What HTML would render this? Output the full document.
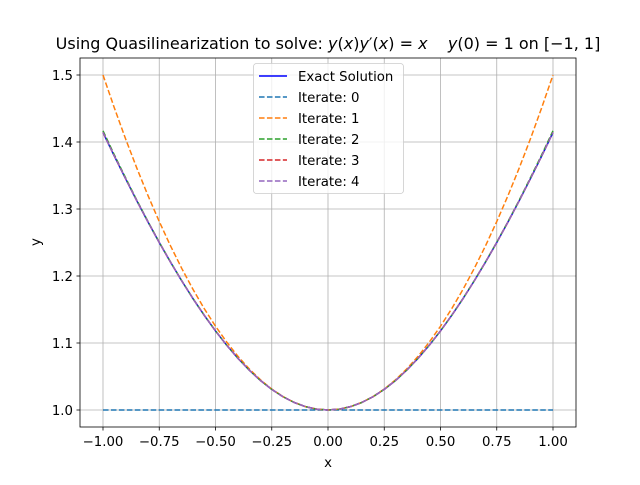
<!DOCTYPE html>
<html><head><meta charset="utf-8"><style>
body{margin:0;background:#fff}
svg text{font-family:"DejaVu Sans","Liberation Sans",sans-serif;white-space:pre}
</style></head><body>
<svg id="chart" width="640" height="480" xmlns="http://www.w3.org/2000/svg">
<rect width="640" height="480" fill="#fff"/>
<g id="grid"></g>
<g id="series"></g>
<rect x="80" y="58" width="496" height="369" fill="none" stroke="#000" stroke-width="0.8"/>
<g id="ticks"></g>
<text x="328" y="49" font-size="16" text-anchor="middle" xml:space="preserve">Using Quasilinearization to solve: <tspan font-style="italic">y</tspan>(<tspan font-style="italic">x</tspan>)<tspan font-style="italic">y</tspan>′(<tspan font-style="italic">x</tspan>) = <tspan font-style="italic">x</tspan>&#160;&#160;&#160;&#160;<tspan font-style="italic">y</tspan>(0) = 1 on [−1, 1]</text>
<text x="328" y="467" font-size="13.3" text-anchor="middle">x</text>
<text transform="translate(40,242) rotate(-90)" font-size="13.3" text-anchor="middle">y</text>
<g id="legend"></g>
</svg>
<script>
const xs=[-1,-0.95,-0.9,-0.85,-0.8,-0.75,-0.7,-0.65,-0.6,-0.55,-0.5,-0.45,-0.4,-0.35,-0.3,-0.25,-0.2,-0.15,-0.1,-0.05,0,0.05,0.1,0.15,0.2,0.25,0.3,0.35,0.4,0.45,0.5,0.55,0.6,0.65,0.7,0.75,0.8,0.85,0.9,0.95,1];
const exact=[1.4142,1.3793,1.3454,1.3124,1.2806,1.25,1.2207,1.1927,1.1662,1.1413,1.1180,1.0966,1.0770,1.0595,1.0440,1.0308,1.0198,1.0112,1.0050,1.0012,1,1.0012,1.0050,1.0112,1.0198,1.0308,1.0440,1.0595,1.0770,1.0966,1.1180,1.1413,1.1662,1.1927,1.2207,1.25,1.2806,1.3124,1.3454,1.3793,1.4142];
const iter0=[1,1,1,1,1,1,1,1,1,1,1,1,1,1,1,1,1,1,1,1,1,1,1,1,1,1,1,1,1,1,1,1,1,1,1,1,1,1,1,1,1];
const iter1=[1.5,1.4513,1.405,1.3613,1.32,1.2813,1.245,1.2113,1.18,1.1513,1.125,1.1013,1.08,1.0613,1.045,1.0313,1.02,1.0113,1.005,1.0013,1,1.0013,1.005,1.0113,1.02,1.0313,1.045,1.0613,1.08,1.1013,1.125,1.1513,1.18,1.2113,1.245,1.2813,1.32,1.3613,1.405,1.4513,1.5];
const iter2=[1.4167,1.3810,1.3468,1.3133,1.2813,1.2504,1.2210,1.1929,1.1664,1.1414,1.1181,1.0966,1.0771,1.0595,1.0440,1.0308,1.0198,1.0112,1.0050,1.0012,1,1.0012,1.0050,1.0112,1.0198,1.0308,1.0440,1.0595,1.0771,1.0966,1.1181,1.1414,1.1664,1.1929,1.2210,1.2504,1.2813,1.3133,1.3468,1.3810,1.4167];
const iter3=[1.4142,1.3793,1.3454,1.3124,1.2806,1.25,1.2207,1.1927,1.1662,1.1413,1.1180,1.0966,1.0770,1.0595,1.0440,1.0308,1.0198,1.0112,1.0050,1.0012,1,1.0012,1.0050,1.0112,1.0198,1.0308,1.0440,1.0595,1.0770,1.0966,1.1180,1.1413,1.1662,1.1927,1.2207,1.25,1.2806,1.3124,1.3454,1.3793,1.4142];
const iter4=[1.4142,1.3793,1.3454,1.3124,1.2806,1.25,1.2207,1.1927,1.1662,1.1413,1.1180,1.0966,1.0770,1.0595,1.0440,1.0308,1.0198,1.0112,1.0050,1.0012,1,1.0012,1.0050,1.0112,1.0198,1.0308,1.0440,1.0595,1.0770,1.0966,1.1180,1.1413,1.1662,1.1927,1.2207,1.25,1.2806,1.3124,1.3454,1.3793,1.4142];
const xTicks=[-1,-0.75,-0.5,-0.25,0,0.25,0.5,0.75,1];
const xTickLabels=["−1.00","−0.75","−0.50","−0.25","0.00","0.25","0.50","0.75","1.00"];
const yTicks=[1.0,1.1,1.2,1.3,1.4,1.5];
const yTickLabels=["1.0","1.1","1.2","1.3","1.4","1.5"];
const labels=["Exact Solution","Iterate: 0","Iterate: 1","Iterate: 2","Iterate: 3","Iterate: 4"];
const colors=["#0000ff","#1f77b4","#ff7f0e","#2ca02c","#d62728","#9467bd"];
const NS="http://www.w3.org/2000/svg";
const X=v=>328+v*225;
const Y=v=>410-(v-1)*670;
function mk(tag,attrs,parent){const e=document.createElementNS(NS,tag);for(const k in attrs)e.setAttribute(k,attrs[k]);parent.appendChild(e);return e;}
const grid=document.getElementById('grid'),ticks=document.getElementById('ticks'),ser=document.getElementById('series'),leg=document.getElementById('legend');
xTicks.forEach((t,i)=>{
 const g=mk('line',{x1:X(t),x2:X(t),y1:58,y2:427,stroke:'#b0b0b0','stroke-width':0.8},grid);
 
 
 const tk=mk('line',{x1:X(t),x2:X(t),y1:427,y2:430.5,stroke:'#000','stroke-width':0.8},ticks);
 
 
 const tl=mk('text',{x:X(t),y:446,'font-size':13.3,'text-anchor':'middle'},ticks);
 tl.textContent=xTickLabels[i];
 
 
});
yTicks.forEach((t,i)=>{
 const g=mk('line',{x1:80,x2:576,y1:Y(t),y2:Y(t),stroke:'#b0b0b0','stroke-width':0.8},grid);
 
 
 const tk=mk('line',{x1:76.5,x2:80,y1:Y(t),y2:Y(t),stroke:'#000','stroke-width':0.8},ticks);
 
 
 const tl=mk('text',{x:73,y:Y(t)+5,'font-size':13.3,'text-anchor':'end'},ticks);
 tl.textContent=yTickLabels[i];
 
 
});
const all=[exact,iter0,iter1,iter2,iter3,iter4];
const names=['exact-solution-line','iterate-0-line','iterate-1-line','iterate-2-line','iterate-3-line','iterate-4-line'];
all.forEach((s,k)=>{
 const d=s.map((v,i)=>(i?'L':'M')+X(xs[i]).toFixed(2)+','+Y(v).toFixed(2)).join('');
 const p=mk('path',{d:d,fill:'none',stroke:colors[k],'stroke-width':1.5,'stroke-linejoin':'round'},ser);
 if(k>0)p.setAttribute('stroke-dasharray','5.55 2.4');
 
 
});
const box=mk('rect',{x:253.5,y:63.5,width:150,height:130,rx:3,fill:'#fff','fill-opacity':0.8,stroke:'#ccc','stroke-width':0.8},leg);


labels.forEach((l,k)=>{
 const y=76+k*21;
 const ln=mk('line',{x1:259,x2:287,y1:y,y2:y,stroke:colors[k],'stroke-width':1.5},leg);
 if(k>0)ln.setAttribute('stroke-dasharray','5.55 2.4');
 
 
 const t=mk('text',{x:298,y:y+5,'font-size':13.3},leg);
 t.textContent=l;
 
 
});
</script>
</body></html>
